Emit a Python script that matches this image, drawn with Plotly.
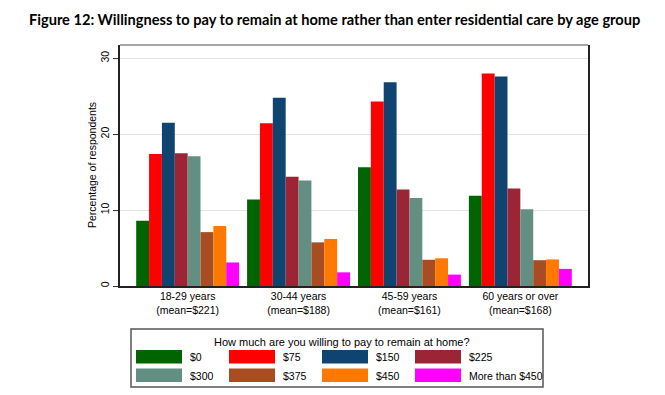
import plotly.graph_objects as go

categories = ["18-29 years<br>(mean=$221)", "30-44 years<br>(mean=$188)",
              "45-59 years<br>(mean=$161)", "60 years or over<br>(mean=$168)"]
series_names = ["$0", "$75", "$150", "$225", "$300", "$375", "$450", "More than $450"]
series_colors = ["#006400", "#FF0000", "#0F4470", "#9B2535", "#638F83", "#A84D22", "#FF7800", "#FF00FF"]
values_0 = [8.6, 11.4, 15.65, 11.9]
values_75 = [17.4, 21.45, 24.3, 28.0]
values_150 = [21.5, 24.8, 26.85, 27.6]
values_225 = [17.5, 14.4, 12.7, 12.85]
values_300 = [17.1, 13.9, 11.6, 10.1]
values_375 = [7.1, 5.75, 3.45, 3.4]
values_450 = [7.9, 6.2, 3.65, 3.5]
values_450plus = [3.1, 1.8, 1.5, 2.25]
all_values = [values_0, values_75, values_150, values_225, values_300, values_375, values_450, values_450plus]
y_ticks = [0, 10, 20, 30]

W, H = 665, 395
OFF = 8  # page body margin offset
L, R, T, B = 120 - OFF, 588 - OFF, 45 - OFF, 286 - OFF

fig = go.Figure()
for name, color, vals in zip(series_names, series_colors, all_values):
    fig.add_trace(go.Bar(x=list(range(len(categories))), y=vals, name=name,
                         marker=dict(color=color, line=dict(width=0)), showlegend=False))

def px(x):
    return (x - OFF - L) / (R - L)

def py(y):
    return (B - (y - OFF)) / (B - T)

FONT = "Liberation Sans, Arial"
shapes = [dict(type="rect", xref="paper", yref="paper", x0=px(131), x1=px(543), y0=py(329), y1=py(387),
               line=dict(color="#555555", width=1.5), fillcolor="white"),
          dict(type="line", xref="paper", yref="paper", x0=0, x1=1, y0=1, y1=1,
               line=dict(color="#8A8A8A", width=1.5))]
annotations = [dict(xref="paper", yref="paper", x=px(342), y=py(342), text="How much are you willing to pay to remain at home?",
                    showarrow=False, font=dict(family=FONT, size=11, color="black"),
                    xanchor="center", yanchor="middle"),
               dict(xref="paper", yref="paper", x=px(92), y=py(165), text="Percentage of respondents",
                    showarrow=False, textangle=-90, font=dict(family=FONT, size=10.5, color="black"),
                    xanchor="center", yanchor="middle")]
col_x = [136, 229, 322, 415]
row_y = [350, 368.5]
for i, (name, color) in enumerate(zip(series_names, series_colors)):
    r, c = divmod(i, 4)
    x0 = col_x[c]
    y0 = row_y[r]
    shapes.append(dict(type="rect", xref="paper", yref="paper", x0=px(x0), x1=px(x0 + 46),
                       y0=py(y0), y1=py(y0 + 13.5), line=dict(width=0), fillcolor=color))
    annotations.append(dict(xref="paper", yref="paper", x=px(x0 + 52), y=py(y0 + 7), text=name, showarrow=False,
                            font=dict(family=FONT, size=10.5, color="black"),
                            xanchor="left", yanchor="middle"))

annotations.append(dict(xref="paper", yref="paper", x=px(334), y=py(20), text="<b>Figure 12: Willingness to pay to remain at home rather than enter residential care by age group</b>",
                        showarrow=False, font=dict(family="Lato", size=14.6, color="black"),
                        xanchor="center", yanchor="middle"))

fig.update_layout(
    width=W, height=H,
    margin=dict(l=L, r=W - R, t=T, b=H - B),
    paper_bgcolor="white", plot_bgcolor="white",
    barmode="group", bargap=0.072, bargroupgap=0,
    shapes=shapes, annotations=annotations,
    font=dict(family=FONT, size=10.5, color="black"),
    xaxis=dict(range=[-0.61, 3.61], tickmode="array", tickvals=list(range(len(categories))),
               ticktext=categories, showgrid=False, zeroline=False, ticks="",
               showline=True, linecolor="#222222", linewidth=1.5, mirror=False,
               tickfont=dict(size=10.5)),
    yaxis=dict(range=[0, 31.75], tickvals=y_ticks, tickangle=-90, ticks="outside", ticklen=5,
               tickcolor="#333333", showgrid=True, gridcolor="#E3E3E3", gridwidth=1.2, zeroline=False,
               showline=True, linecolor="#222222", linewidth=1.5, mirror=True,
               tickfont=dict(size=10.5)),
)

fig.write_html("out.html")
